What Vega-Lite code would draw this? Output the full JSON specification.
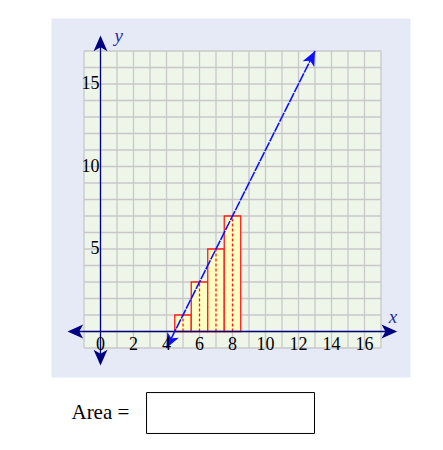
{
  "$schema": "https://vega.github.io/schema/vega-lite/v6.json",
  "width": 297,
  "height": 297,
  "autosize": "none",
  "padding": {"left": 84, "top": 51, "right": 62, "bottom": 102},
  "background": "white",
  "config": {"view": {"stroke": null}},
  "datasets": {
    "panel": [{"x0": -2.97, "x1": 18.79, "y0": -2.79, "y1": 18.97}],
    "plotarea": [{"x0": -1, "x1": 17, "y0": -1, "y1": 17}],
    "grid": [{"v": -1, "lo": -1, "hi": 17}, {"v": 0, "lo": -1, "hi": 17}, {"v": 1, "lo": -1, "hi": 17}, {"v": 2, "lo": -1, "hi": 17}, {"v": 3, "lo": -1, "hi": 17}, {"v": 4, "lo": -1, "hi": 17}, {"v": 5, "lo": -1, "hi": 17}, {"v": 6, "lo": -1, "hi": 17}, {"v": 7, "lo": -1, "hi": 17}, {"v": 8, "lo": -1, "hi": 17}, {"v": 9, "lo": -1, "hi": 17}, {"v": 10, "lo": -1, "hi": 17}, {"v": 11, "lo": -1, "hi": 17}, {"v": 12, "lo": -1, "hi": 17}, {"v": 13, "lo": -1, "hi": 17}, {"v": 14, "lo": -1, "hi": 17}, {"v": 15, "lo": -1, "hi": 17}, {"v": 16, "lo": -1, "hi": 17}, {"v": 17, "lo": -1, "hi": 17}],
    "bars": [
      {"x0": 4.5, "x1": 5.5, "mid": 5, "h": 1, "base": 0},
      {"x0": 5.5, "x1": 6.5, "mid": 6, "h": 3, "base": 0},
      {"x0": 6.5, "x1": 7.5, "mid": 7, "h": 5, "base": 0},
      {"x0": 7.5, "x1": 8.5, "mid": 8, "h": 7, "base": 0}
    ],
    "axes": [{"x0": -1.8, "x1": 17.8, "y0": 0, "y1": 0}, {"x0": 0, "x1": 0, "y0": -1.85, "y1": 17.75}],
    "line": [{"x0": 4, "y0": -1, "x1": 13, "y1": 17}],
    "box": [{"x0": 2.79, "x1": 12.97, "y0": -3.7, "y1": -6.18}],
    "xticks": [{"v": 0, "t": "0"}, {"v": 2, "t": "2"}, {"v": 4, "t": "4"}, {"v": 6, "t": "6"}, {"v": 8, "t": "8"}, {"v": 10, "t": "10"}, {"v": 12, "t": "12"}, {"v": 14, "t": "14"}, {"v": 16, "t": "16"}],
    "yticks": [{"v": 5, "t": "5"}, {"v": 10, "t": "10"}, {"v": 15, "t": "15"}],
    "axisArrows": [{"x": 0, "y": 17.94, "dir": 0}, {"x": 0, "y": -2.06, "dir": 180}, {"x": -2.0, "y": 0, "dir": 270}, {"x": 17.98, "y": 0, "dir": 90}],
    "lineArrows": [{"x": 13, "y": 17, "dir": 26.57}, {"x": 4, "y": -1, "dir": 206.57}],
    "labels": [{"x": 17.72, "y": 0.87, "t": "x"}, {"x": 1.11, "y": 17.88, "t": "y"}],
    "caption": [{"x": -1.76, "y": -5.29, "t": "Area ="}]
  },
  "layer": [
    {
      "data": {"name": "panel"},
      "mark": {"type": "rect", "fill": "#e6eaf6"},
      "encoding": {
        "x": {"field": "x0", "type": "quantitative", "scale": {"domain": [-1, 17], "nice": false, "zero": false}, "axis": null},
        "x2": {"field": "x1"},
        "y": {"field": "y0", "type": "quantitative", "scale": {"domain": [-1, 17], "nice": false, "zero": false}, "axis": null},
        "y2": {"field": "y1"}
      }
    },
    {
      "data": {"name": "plotarea"},
      "mark": {"type": "rect", "fill": "#eef6ea"},
      "encoding": {
        "x": {"field": "x0", "type": "quantitative"},
        "x2": {"field": "x1"},
        "y": {"field": "y0", "type": "quantitative"},
        "y2": {"field": "y1"}
      }
    },
    {
      "data": {"name": "grid"},
      "mark": {"type": "rule", "stroke": "#c8c8c8", "strokeWidth": 1.3},
      "encoding": {
        "x": {"field": "v", "type": "quantitative"},
        "y": {"field": "lo", "type": "quantitative"},
        "y2": {"field": "hi"}
      }
    },
    {
      "data": {"name": "grid"},
      "mark": {"type": "rule", "stroke": "#c8c8c8", "strokeWidth": 1.3},
      "encoding": {
        "y": {"field": "v", "type": "quantitative"},
        "x": {"field": "lo", "type": "quantitative"},
        "x2": {"field": "hi"}
      }
    },
    {
      "data": {"name": "bars"},
      "mark": {"type": "rect", "fill": "#ffffc4", "stroke": "#ff1a1a", "strokeWidth": 1.3},
      "encoding": {
        "x": {"field": "x0", "type": "quantitative"},
        "x2": {"field": "x1"},
        "y": {"field": "base", "type": "quantitative"},
        "y2": {"field": "h"}
      }
    },
    {
      "data": {"name": "bars"},
      "mark": {"type": "rule", "stroke": "#ff1a1a", "strokeWidth": 1.3, "strokeDash": [3, 2]},
      "encoding": {
        "x": {"field": "mid", "type": "quantitative"},
        "y": {"field": "base", "type": "quantitative"},
        "y2": {"field": "h"}
      }
    },
    {
      "data": {"name": "axes"},
      "mark": {"type": "rule", "stroke": "#000080", "strokeWidth": 1.3},
      "encoding": {
        "x": {"field": "x0", "type": "quantitative"},
        "x2": {"field": "x1"},
        "y": {"field": "y0", "type": "quantitative"},
        "y2": {"field": "y1"}
      }
    },
    {
      "data": {"name": "line"},
      "mark": {"type": "rule", "stroke": "#1010ff", "strokeWidth": 1.6, "strokeDash": [10, 1]},
      "encoding": {
        "x": {"field": "x0", "type": "quantitative"},
        "x2": {"field": "x1"},
        "y": {"field": "y0", "type": "quantitative"},
        "y2": {"field": "y1"}
      }
    },
    {
      "data": {"name": "axisArrows"},
      "mark": {"type": "point", "filled": true, "opacity": 1, "color": "#000080", "shape": "M0,0 L0.62,1.4 L0,1.05 L-0.62,1.4 Z", "size": 500},
      "encoding": {
        "x": {"field": "x", "type": "quantitative"},
        "y": {"field": "y", "type": "quantitative"},
        "angle": {"field": "dir", "type": "quantitative", "scale": null}
      }
    },
    {
      "data": {"name": "lineArrows"},
      "mark": {"type": "point", "filled": true, "opacity": 1, "color": "#1010ff", "shape": "M0,0 L0.62,1.4 L0,1.05 L-0.62,1.4 Z", "size": 440},
      "encoding": {
        "x": {"field": "x", "type": "quantitative"},
        "y": {"field": "y", "type": "quantitative"},
        "angle": {"field": "dir", "type": "quantitative", "scale": null}
      }
    },
    {
      "data": {"name": "xticks"},
      "mark": {"type": "text", "font": "Liberation Serif", "fontSize": 18, "color": "black", "align": "center", "baseline": "middle", "dy": 13},
      "encoding": {
        "x": {"field": "v", "type": "quantitative"},
        "y": {"datum": 0, "type": "quantitative"},
        "text": {"field": "t"}
      }
    },
    {
      "data": {"name": "yticks"},
      "mark": {"type": "text", "font": "Liberation Serif", "fontSize": 18, "color": "black", "align": "right", "baseline": "middle", "dx": -1},
      "encoding": {
        "y": {"field": "v", "type": "quantitative"},
        "x": {"datum": 0, "type": "quantitative"},
        "text": {"field": "t"}
      }
    },
    {
      "data": {"name": "labels"},
      "mark": {"type": "text", "font": "Liberation Serif", "fontStyle": "italic", "fontSize": 19, "color": "#2a2aa0", "align": "center", "baseline": "middle"},
      "encoding": {
        "x": {"field": "x", "type": "quantitative"},
        "y": {"field": "y", "type": "quantitative"},
        "text": {"field": "t"}
      }
    },
    {
      "data": {"name": "caption"},
      "mark": {"type": "text", "font": "Liberation Serif", "fontSize": 21, "color": "black", "align": "left", "baseline": "alphabetic"},
      "encoding": {
        "x": {"field": "x", "type": "quantitative"},
        "y": {"field": "y", "type": "quantitative"},
        "text": {"field": "t"}
      }
    },
    {
      "data": {"name": "box"},
      "mark": {"type": "rect", "fill": "white", "stroke": "black", "strokeWidth": 1},
      "encoding": {
        "x": {"field": "x0", "type": "quantitative"},
        "x2": {"field": "x1"},
        "y": {"field": "y0", "type": "quantitative"},
        "y2": {"field": "y1"}
      }
    }
  ]
}
